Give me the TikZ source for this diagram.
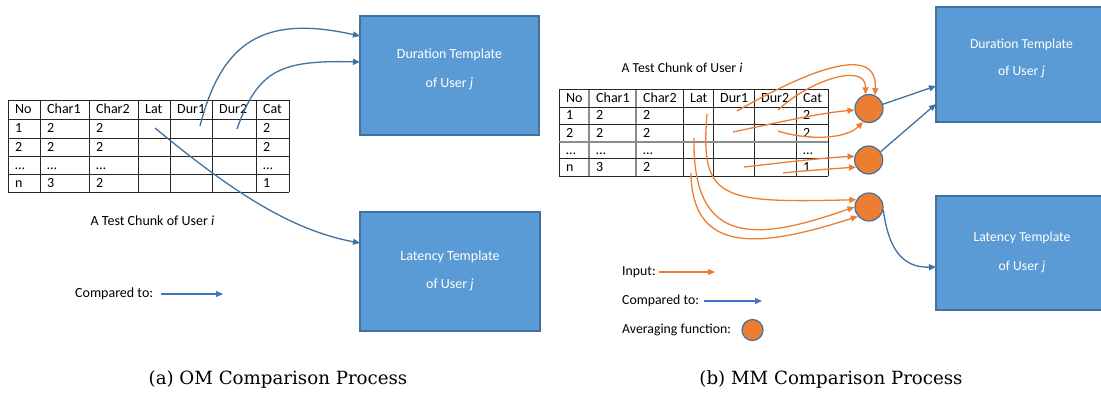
\documentclass[tikz,border=0pt]{standalone}
\usepackage{fontspec}
\setmainfont{Carlito}
\newfontfamily\captfont{DejaVu Serif}
\usetikzlibrary{arrows.meta,calc}
\definecolor{boxfill}{HTML}{5B9BD5}
\definecolor{boxedge}{HTML}{41719C}
\definecolor{orng}{HTML}{ED7D31}
\definecolor{cmpblue}{HTML}{41719C}
\definecolor{legblue}{HTML}{4472C4}
\definecolor{tabgray}{HTML}{8C8C8C}
\newcommand\tcell[4]{\node[celltext] (#1) at (#2,#3) {#4};}
\begin{document}
\begin{tikzpicture}[x=1pt,y=-1pt,
  tmpl/.style={draw=boxedge,fill=boxfill,line width=1.2pt,inner sep=0pt},
  tmpltext/.style={text=white,align=center,inner sep=0pt,font=\fontsize{14}{28.5}\selectfont},
  celltext/.style={anchor=west,inner sep=0pt,text height=8.6pt,text depth=0pt,font=\fontsize{14}{16}\selectfont},
  plain/.style={inner sep=0pt,font=\fontsize{14}{16}\selectfont},
  tabline/.style={draw=black!85,line width=0.9pt},
  graytab/.style={draw=tabgray,line width=1.4pt},
  cmp/.style={draw=cmpblue,line width=1.3pt,-{Triangle[length=7pt,width=6pt]}},
  legcmp/.style={draw=legblue,line width=1.3pt,-{Triangle[length=7pt,width=6pt]}},
  inp/.style={draw=orng,line width=1.3pt,-{Triangle[length=7pt,width=6pt]}},
  avg/.style={circle,draw=boxedge,fill=orng,line width=1.2pt,inner sep=0pt},
  capt/.style={inner sep=0pt,font=\captfont\fontsize{18.2}{22}\selectfont}
]
\useasboundingbox (0,0) rectangle (1101,394);

% ================= (a) OM =================
\foreach \x in {8,40,89,138,170,212,256,289} \draw[tabline] (\x,100) -- (\x,192);
\foreach \y in {100,119,138,156,174,192} \draw[tabline] (8,\y) -- (289,\y);
\tcell{La11}{15}{109.5}{No}\tcell{La12}{47}{109.5}{Char1}\tcell{La13}{96}{109.5}{Char2}
\tcell{La14}{145}{109.5}{Lat}\tcell{La15}{177}{109.5}{Dur1}\tcell{La16}{219}{109.5}{Dur2}\tcell{La17}{263}{109.5}{Cat}
\tcell{La21}{15}{128.5}{1}\tcell{La22}{47}{128.5}{2}\tcell{La23}{96}{128.5}{2}\tcell{La27}{263}{128.5}{2}
\tcell{La31}{15}{147}{2}\tcell{La32}{47}{147}{2}\tcell{La33}{96}{147}{2}\tcell{La37}{263}{147}{2}
\tcell{La41}{15}{165}{…}\tcell{La42}{47}{165}{…}\tcell{La43}{96}{165}{…}\tcell{La47}{263}{165}{…}
\tcell{La51}{15}{183}{n}\tcell{La52}{47}{183}{3}\tcell{La53}{96}{183}{2}\tcell{La57}{263}{183}{1}

\node[plain] (chunkL) at (152.5,221) {A Test Chunk of User \textit{i}};

\node[tmpl,minimum width=179pt,minimum height=119pt] (durL) at (449.5,75.5) {};
\node[tmpltext] (durLt) at (449.5,69.5) {Duration Template\\of User \textit{j}};
\node[tmpl,minimum width=180pt,minimum height=119pt] (latL) at (450,271.5) {};
\node[tmpltext] (latLt) at (450,271) {Latency Template\\of User \textit{j}};

\coordinate (sL1) at (200,126);
\coordinate (sL2) at (237,129);
\coordinate (sL3) at (155,128);
\coordinate (dL1) at (360,36);
\coordinate (dL2) at (360,62);
\coordinate (dL3) at (360,243);
\draw[cmp] (sL1) .. controls (222,40) and (265,15) .. (dL1);
\draw[cmp] (sL2) .. controls (258,70) and (280,60) .. (dL2);
\draw[cmp] (sL3) .. controls (230,190) and (290,230) .. (dL3);

\node[plain,anchor=west] (cmpL) at (75,294) {Compared to:};
\coordinate (cmpLe) at (223,294);
\draw[legcmp] ([xshift=8pt]cmpL.east) -- (cmpLe);

\node[capt] (captA) at (278,379) {(a) OM Comparison Process};

% ================= (b) MM =================
\foreach \x in {559,683,713,754,796,828} \draw[tabline] (\x,89) -- (\x,176);
\foreach \x in {589,636} \draw[graytab] (\x,89) -- (\x,176);
\foreach \y in {89,107,124,158,176} \draw[tabline] (559,\y) -- (828,\y);
\draw[graytab] (559,142) -- (828,142);
\tcell{Lb11}{566}{98}{No}\tcell{Lb12}{596}{98}{Char1}\tcell{Lb13}{643}{98}{Char2}
\tcell{Lb14}{690}{98}{Lat}\tcell{Lb15}{720}{98}{Dur1}\tcell{Lb16}{761}{98}{Dur2}\tcell{Lb17}{803}{98}{Cat}
\tcell{Lb21}{566}{115.5}{1}\tcell{Lb22}{596}{115.5}{2}\tcell{Lb23}{643}{115.5}{2}\tcell{Lb27}{803}{115.5}{2}
\tcell{Lb31}{566}{133}{2}\tcell{Lb32}{596}{133}{2}\tcell{Lb33}{643}{133}{2}\tcell{Lb37}{803}{133}{2}
\tcell{Lb41}{566}{150}{…}\tcell{Lb42}{596}{150}{…}\tcell{Lb43}{643}{150}{…}\tcell{Lb47}{803}{150}{…}
\tcell{Lb51}{566}{167}{n}\tcell{Lb52}{596}{167}{3}\tcell{Lb53}{643}{167}{2}\tcell{Lb57}{803}{167}{1}

\node[plain,font=\fontsize{13.7}{16}\selectfont] (chunkR) at (682,68) {A Test Chunk of User \textit{i}};

\node[avg,minimum size=28pt] (c1) at (869,108.5) {};
\node[avg,minimum size=28pt] (c2) at (868.7,160) {};
\node[avg,minimum size=28pt] (c3) at (869,207) {};

\node[tmpl,minimum width=171pt,minimum height=115pt] (durR) at (1021.5,64.5) {};
\node[tmpltext,font=\fontsize{13.7}{27.5}\selectfont] (durRt) at (1021.5,58.5) {Duration Template\\of User \textit{j}};
\node[tmpl,minimum width=171pt,minimum height=114pt] (latR) at (1021.5,253) {};
\node[tmpltext,font=\fontsize{13.7}{29}\selectfont] (latRt) at (1022,252) {Latency Template\\of User \textit{j}};

% orange inputs
\coordinate (ia) at (737,111);
\coordinate (ib) at (778,110);
\coordinate (ic) at (733,132);
\coordinate (id) at (778,131);
\coordinate (ie) at (744,167);
\coordinate (if) at (783,173);
\coordinate (ig) at (707,114);
\coordinate (ih) at (694,138);
\coordinate (ii) at (691,173);
\draw[inp] (ia) .. controls (800,75) and (878,40) .. (c1.66);
\draw[inp] (ib) .. controls (810,80) and (866,62) .. (c1.104);
\draw[inp] (ic) .. controls (780,122) and (820,113) .. (c1.186);
\draw[inp] (id) .. controls (805,140) and (845,140) .. (c1.246);
\draw[inp] (ie) .. controls (780,163) and (820,158) .. (c2.165);
\draw[inp] (if) .. controls (800,171) and (830,169) .. (c2.209);
\draw[inp] (ig) .. controls (700,200) and (720,203) .. (c3.150);
\draw[inp] (ih) .. controls (692,250) and (760,240) .. (c3.180);
\draw[inp] (ii) .. controls (692,255) and (760,248) .. (c3.220);

% compared to
\coordinate (dR1) at (936,86);
\coordinate (dR2) at (936,104);
\coordinate (dR3) at (936,267);
\draw[cmp] (c1.17) -- (dR1);
\draw[cmp] (c2.35) -- (dR2);
\draw[cmp] (c3.-12) .. controls (888,245) and (900,268) .. (dR3);

% legend
\node[plain,font=\fontsize{13.8}{16}\selectfont,anchor=west] (legIn) at (622,272) {Input:};
\coordinate (legInE) at (715,272);
\draw[inp] ([xshift=3pt]legIn.east) -- (legInE);
\node[plain,font=\fontsize{13.8}{16}\selectfont,anchor=west] (legCmp) at (622,301) {Compared to:};
\coordinate (legCmpE) at (762,301);
\draw[legcmp] ([xshift=5pt]legCmp.east) -- (legCmpE);
\node[plain,font=\fontsize{13.8}{16}\selectfont,anchor=west] (legAvg) at (622,330) {Averaging function:};
\node[avg,minimum size=21pt] (legC) at (752.5,330) {};

\node[capt] (captB) at (831,379) {(b) MM Comparison Process};
\end{tikzpicture}
\end{document}
